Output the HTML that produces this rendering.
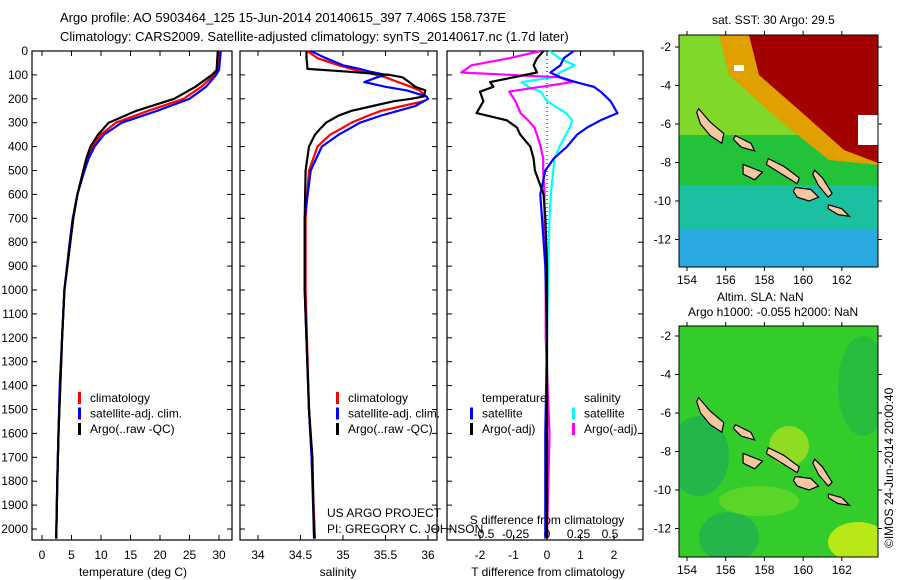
<!DOCTYPE html>
<html><head><meta charset="utf-8"><style>
body{margin:0;background:#fff;}
svg{display:block;font-family:"Liberation Sans",sans-serif;}
</style></head><body>
<svg id="fig" width="900" height="580" viewBox="0 0 900 580">
<text x="60" y="22" font-size="13">Argo profile: AO 5903464_125 15-Jun-2014 20140615_397 7.406S 158.737E</text>
<text x="60" y="41" font-size="13">Climatology: CARS2009. Satellite-adjusted climatology: synTS_20140617.nc (1.7d later)</text>
<g id="plots"></g>
<g id="maps"></g>
<text transform="translate(893,548) rotate(-90)" font-size="12">©IMOS 24-Jun-2014 20:00:40</text>
</svg>
<script>
// ---- data ----
const tDepth   = [0,80,100,150,200,250,300,350,400,450,500,600,700,800,1000,1200,1400,1600,1800,2040];
const tArgo    = [29.8,29.6,28.8,26,22.4,16,11.3,9.5,8.2,7.5,7.0,6.0,5.3,4.8,3.8,3.4,3.1,2.8,2.6,2.4];
const tClim    = [29.9,29.7,29.2,27,24,18,12.5,10.0,8.6,7.7,7.1,6.0,5.3,4.8,3.8,3.4,3.1,2.8,2.6,2.4];
const tSat     = [30.3,30.0,29.5,27.8,25,19.5,13.5,10.5,8.9,7.9,7.2,6.0,5.2,4.7,3.8,3.4,3.0,2.8,2.6,2.4];
const sDepth   = [0,30,60,75,85,100,110,130,150,165,190,200,210,230,250,270,300,330,350,400,500,700,1000,1500,1700,2040];
const sArgo    = [34.57,34.57,34.58,34.58,35.0,35.55,35.7,35.78,35.85,35.97,35.95,35.8,35.6,35.35,35.1,34.95,34.8,34.72,34.67,34.6,34.56,34.55,34.55,34.6,34.64,34.66];
const sClim    = [34.58,34.7,34.95,35.1,35.2,35.4,35.5,35.65,35.8,35.9,35.98,36.0,35.95,35.7,35.45,35.3,35.1,34.95,34.85,34.7,34.6,34.56,34.56,34.6,34.63,34.67];
const sSat     = [34.62,34.8,35.0,35.2,35.3,35.5,35.4,35.25,35.5,35.75,35.98,36.0,35.95,35.85,35.65,35.45,35.2,35.05,34.95,34.75,34.62,34.55,34.55,34.6,34.63,34.66];
const dDepth   = [0,30,60,90,110,130,150,170,210,260,290,320,350,400,450,500,600,700,900,1200,1600,2040];
const dTArgo   = [-0.1,-0.3,-0.4,-0.3,-1.0,-1.7,-1.6,-2.0,-1.9,-2.1,-1.2,-0.9,-0.8,-0.5,-0.4,-0.36,-0.1,-0.05,0,0,0,0];
const dTSat    = [0.8,0.5,0.4,0.1,0.4,0.85,1.4,1.6,1.9,2.1,1.6,1.2,0.9,0.6,0.2,-0.05,-0.2,-0.15,-0.05,0,-0.05,-0.05];
const dSArgo   = [-0.05,-0.3,-0.6,-0.68,0.1,0.2,-0.05,-0.3,-0.25,-0.21,-0.15,-0.1,-0.08,-0.05,-0.03,-0.03,-0.02,-0.02,-0.01,-0.01,0.02,0.0];
const dSSat    = [0.02,0.1,0.22,0.1,0.05,-0.2,-0.15,-0.05,0.0,0.15,0.2,0.18,0.15,0.1,0.06,0.05,0.03,0.02,0.01,0.0,0.0,0.0];
const depthTicks = [0,100,200,300,400,500,600,700,800,900,1000,1100,1200,1300,1400,1500,1600,1700,1800,1900,2000];
const tTicks = [0,5,10,15,20,25,30];
const sTicks = [34,34.5,35,35.5,36];
const dTTicks = [-2,-1,0,1,2];
const dSTicks = [-0.5,-0.25,0,0.25,0.5];
const dSTickLabels = ["-0.5","-0.25","0","0.25","0.5"];
const latTicks = [-2,-4,-6,-8,-10,-12];
const lonTicks = [154,156,158,160,162];

const NS="http://www.w3.org/2000/svg";
function mk(tag,attrs,parent){const e=document.createElementNS(NS,tag);for(const k in attrs)e.setAttribute(k,attrs[k]);parent.appendChild(e);return e;}
const plots=document.getElementById('plots');
const Y=d=>51+d*0.239;
const TOP=51,BOT=540;
function frame(x0,x1,name){
  const r=mk('rect',{x:x0,y:TOP,width:x1-x0,height:BOT-TOP,fill:'none',stroke:'#000','stroke-width':1.2},plots);
  
  
}
function xticks(vals,labels,X,y,name){
  vals.forEach((v,i)=>{
    const x=X(v);
    mk('line',{x1:x,x2:x,y1:TOP,y2:TOP+5,stroke:'#000'},plots);
    mk('line',{x1:x,x2:x,y1:BOT,y2:BOT-5,stroke:'#000'},plots);
    const t=mk('text',{x:x,y:y,'font-size':12,'text-anchor':'middle'},plots);
    t.textContent=labels?labels[i]:String(v);
    
    
  });
}
function yticks(x0,x1,lab){
  depthTicks.forEach(d=>{
    const y=Y(d);
    mk('line',{x1:x0,x2:x0+5,y1:y,y2:y,stroke:'#000'},plots);
    mk('line',{x1:x1,x2:x1-5,y1:y,y2:y,stroke:'#000'},plots);
    if(lab){const t=mk('text',{x:x0-4,y:y+4,'font-size':12,'text-anchor':'end'},plots);t.textContent=d;
      
      }
  });
}
function line(depths,vals,X,color,name,w){
  const p=mk('polyline',{points:depths.map((d,i)=>X(vals[i]).toFixed(1)+','+Y(d).toFixed(1)).join(' '),fill:'none',stroke:color,'stroke-width':w||2.2,'stroke-linejoin':'round'},plots);
  
  
}
function legend(items,x,y,name){
  items.forEach((it,i)=>{
    const yy=y+i*15.5;
    if(it[0]) mk('rect',{x:x,y:yy-10,width:3,height:12,fill:it[0]},plots);
    const t=mk('text',{x:x+12,y:yy,'font-size':12},plots);t.textContent=it[1];
    
    
  });
}
function label(x,y,s,name,anchor){const t=mk('text',{x:x,y:y,'font-size':12,'text-anchor':anchor||'middle'},plots);t.textContent=s;
  
  }

// panel 1 temperature
const XT=v=>42+v*5.9;
frame(32,232,'temperature-panel');yticks(32,232,true);xticks(tTicks,null,XT,559,'temperature-tick-label');
line(tDepth,tClim,XT,'#f00','temp-climatology');line(tDepth,tSat,XT,'#00f','temp-satellite');line(tDepth,tArgo,XT,'#000','temp-argo');
legend([['#f00','climatology'],['#00f','satellite-adj. clim.'],['#000','Argo(..raw -QC)']],78,402,'temp-legend-entry');
label(133,576,'temperature (deg C)','temperature-axis-title');
// panel 2 salinity
const XS=v=>258+(v-34)*85;
frame(240,437,'salinity-panel');yticks(240,437,false);xticks(sTicks,null,XS,559,'salinity-tick-label');
line(sDepth,sClim,XS,'#f00','sal-climatology');line(sDepth,sSat,XS,'#00f','sal-satellite');line(sDepth,sArgo,XS,'#000','sal-argo');
legend([['#f00','climatology'],['#00f','satellite-adj. clim.'],['#000','Argo(..raw -QC)']],336,402,'sal-legend-entry');
label(338,576,'salinity','salinity-axis-title');
label(327,517,'US ARGO PROJECT','project-label','start');label(327,533,'PI: GREGORY C. JOHNSON','pi-label','start');
// panel 3 differences
const XD=v=>547+v*33.5;const XDS=v=>547+v*126;
frame(447,643,'difference-panel');yticks(447,643,false);xticks(dTTicks,null,XD,559,'t-diff-tick-label');
dSTicks.forEach((v,i)=>{const t=mk('text',{x:XDS(v),y:538,'font-size':12,'text-anchor':'middle'},plots);t.textContent=dSTickLabels[i];
  
  });
mk('line',{x1:XD(0),x2:XD(0),y1:TOP,y2:BOT,stroke:'#000','stroke-dasharray':'1,3'},plots);
line(dDepth,dSSat,XDS,'#0ff','s-diff-satellite');line(dDepth,dSArgo,XDS,'#f0f','s-diff-argo');
line(dDepth,dTSat,XD,'#00f','t-diff-satellite');line(dDepth,dTArgo,XD,'#000','t-diff-argo');
legend([[null,'temperature'],['#00f','satellite'],['#000','Argo(-adj)']],470,402,'t-diff-legend-entry');
legend([[null,'salinity'],['#0ff','satellite'],['#f0f','Argo(-adj)']],572,402,'s-diff-legend-entry');
label(547,524,'S difference from climatology','s-diff-axis-title');
label(548,576,'T difference from climatology','t-diff-axis-title');

// ---- maps ----
const maps=document.getElementById('maps');
const islands=[
 [[154.6,-5.2],[155.2,-5.9],[155.9,-6.5],[155.8,-7.0],[155.2,-6.6],[154.7,-6.0],[154.5,-5.4]],
 [[156.5,-6.6],[157.3,-7.0],[157.5,-7.4],[156.8,-7.2],[156.4,-6.8]],
 [[158.2,-7.8],[159.0,-8.2],[159.8,-8.8],[159.7,-9.1],[158.9,-8.6],[158.1,-8.1]],
 [[160.6,-8.4],[161.0,-8.8],[161.5,-9.6],[161.3,-9.8],[160.8,-9.2],[160.5,-8.6]],
 [[159.6,-9.3],[160.4,-9.4],[160.8,-9.8],[160.3,-10.0],[159.7,-9.8],[159.5,-9.5]],
 [[161.3,-10.2],[162.0,-10.4],[162.4,-10.8],[161.8,-10.7],[161.3,-10.4]],
 [[156.9,-8.1],[157.9,-8.5],[157.5,-8.9],[156.9,-8.6]]
];
function drawMap(x0,y0,x1,y1,latTop,name,top){
  const LX=l=>687+(l-154)*19.35;
  const LY=l=>latTop+(-2-l)*19.25;
  const g=mk('g',{},maps);
  
  
  const cid='clip'+name;
  const cp=mk('clipPath',{id:cid},g);mk('rect',{x:x0,y:y0,width:x1-x0,height:y1-y0},cp);
  const inner=mk('g',{'clip-path':'url(#'+cid+')'},g);
  if(top){
    mk('rect',{x:x0,y:y0,width:x1-x0,height:y1-y0,fill:'#22c33a'},inner);
    mk('rect',{x:x0,y:y0,width:x1-x0,height:100,fill:'#7fd82a'},inner);
    mk('rect',{x:x0,y:y0+150,width:x1-x0,height:y1-y0-150,fill:'#1cc0a0'},inner);
    mk('rect',{x:x0,y:y0+195,width:x1-x0,height:40,fill:'#2aa8e0'},inner);
    mk('polygon',{points:`${x0+40},${y0} ${x1},${y0} ${x1},${y0+130} ${x0+150},${y0+125} ${x0+100},${y0+85} ${x0+50},${y0+40}`,fill:'#e0a000'},inner);
    mk('polygon',{points:`${x0+70},${y0} ${x1},${y0} ${x1},${y0+128} ${x0+165},${y0+115} ${x0+120},${y0+75} ${x0+80},${y0+40}`,fill:'#a30000'},inner);
    mk('rect',{x:x1-20,y:y0+80,width:20,height:30,fill:'#fff'},inner);
    mk('rect',{x:x0+55,y:y0+30,width:10,height:6,fill:'#fff'},inner);
  } else {
    mk('rect',{x:x0,y:y0,width:x1-x0,height:y1-y0,fill:'#33cc2a'},inner);
    mk('ellipse',{cx:x0+20,cy:y0+130,rx:30,ry:40,fill:'#20b050','opacity':0.8},inner);
    mk('ellipse',{cx:x0+50,cy:y1-20,rx:30,ry:25,fill:'#20b050','opacity':0.8},inner);
    mk('ellipse',{cx:x1-15,cy:y0+60,rx:25,ry:50,fill:'#25b545','opacity':0.7},inner);
    mk('ellipse',{cx:x0+110,cy:y0+120,rx:20,ry:20,fill:'#a8e020','opacity':0.8},inner);
    mk('ellipse',{cx:x1-20,cy:y1-15,rx:30,ry:20,fill:'#b8e818'},inner);
    mk('ellipse',{cx:x0+80,cy:y0+175,rx:40,ry:15,fill:'#6cd828','opacity':0.7},inner);
  }
  islands.forEach(p=>{
    mk('polygon',{points:p.map(q=>LX(q[0]).toFixed(1)+','+LY(q[1]).toFixed(1)).join(' '),fill:'#f6c8a0',stroke:'#000','stroke-width':1.2},inner);
  });
  mk('rect',{x:x0,y:y0,width:x1-x0,height:y1-y0,fill:'none',stroke:'#000'},g);
  latTicks.forEach(l=>{const y=LY(l);
    mk('line',{x1:x0-4,x2:x0,y1:y,y2:y,stroke:'#000'},g);mk('line',{x1:x1,x2:x1+4,y1:y,y2:y,stroke:'#000'},g);
    const t=mk('text',{x:x0-8,y:y+4,'font-size':12,'text-anchor':'end'},g);t.textContent=l;
    
    });
  lonTicks.forEach(l=>{const x=LX(l);
    mk('line',{x1:x,x2:x,y1:y1,y2:y1+4,stroke:'#000'},g);mk('line',{x1:x,x2:x,y1:y0-4,y2:y0,stroke:'#000'},g);
    const t=mk('text',{x:x,y:y1+17,'font-size':12,'text-anchor':'middle'},g);t.textContent=l;
    
    });
}
drawMap(679,35,878,267,47,'sst-map',true);
drawMap(679,326,878,557,336,'sla-map',false);
[[712,24,'sat. SST: 30 Argo: 29.5','sst-map-title'],[717,301,'Altim. SLA: NaN','sla-map-title'],[688,316,'Argo h1000: -0.055 h2000: NaN','sla-map-subtitle']].forEach(a=>{
  const t=mk('text',{x:a[0],y:a[1],'font-size':12},maps);t.textContent=a[2];
  
  
});
</script>
</body></html>
